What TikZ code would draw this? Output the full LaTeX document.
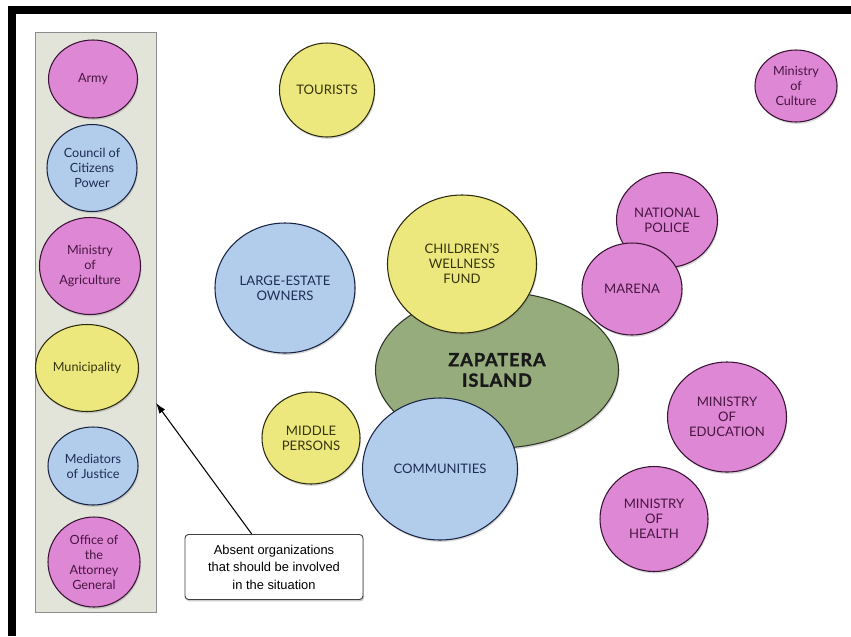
\documentclass[tikz,border=0pt]{standalone}
\usepackage{fontspec}
\setmainfont{Lato}
\newfontfamily\calloutfont{Liberation Sans}
\newfontfamily\islandfont[LetterSpace=5, BoldFeatures={FakeBold=1.6}]{Lato}
\usetikzlibrary{shapes.geometric,shadows,arrows.meta}

\definecolor{orgpink}{RGB}{222,135,212}
\definecolor{orgblue}{RGB}{178,204,236}
\definecolor{orgyellow}{RGB}{236,232,125}
\definecolor{islandgreen}{RGB}{150,172,125}
\definecolor{panelgray}{RGB}{226,227,217}
\definecolor{pinktext}{RGB}{72,22,66}
\definecolor{bluetext}{RGB}{30,45,85}
\definecolor{yellowtext}{RGB}{55,52,15}

\begin{document}
\begin{tikzpicture}[x=0.3mm, y=-0.3mm,
    dims/.style 2 args={minimum width=#1*0.3mm, minimum height=#2*0.3mm},
    org/.style={ellipse, draw=black!80, line width=0.9pt, inner sep=0pt, align=center,
        font=\fontsize{11.2}{12.8}\selectfont,
        drop shadow={opacity=0.3, shadow xshift=0.8pt, shadow yshift=-1.6pt}},
    pinkorg/.style={org, fill=orgpink, draw=pinktext!80!black, text=pinktext},
    blueorg/.style={org, fill=orgblue, draw=bluetext!80!black, text=bluetext},
    yelloworg/.style={org, fill=orgyellow, draw=yellowtext!80!black, text=yellowtext},
    panelorg/.style={font=\fontsize{10.8}{12.8}\selectfont},
    arrow/.style={-{Latex[length=9pt, width=6pt]}, line width=0.9pt}]

    % page and black frame
    \useasboundingbox (0,0) rectangle (851,636);
    \fill[white] (0,0) rectangle (851,636);
    \fill[black] (8,6) rectangle (851,14);
    \fill[black] (8,6) rectangle (16,636);

    % panel of absent organizations
    \node[draw=black!45, line width=0.8pt, fill=panelgray, dims={121}{580},
        drop shadow={opacity=0.2, shadow xshift=0.6pt, shadow yshift=-1.2pt}] (panel) at (95.5,322) {};
    \node[pinkorg, panelorg, dims={89}{78}] (army) at (93,79) {Army};
    \node[blueorg, panelorg, dims={90}{87}] (council) at (92,168) {Council of\\Citizens\\Power};
    \node[pinkorg, panelorg, dims={101}{97}] (agriculture) at (90,266) {Ministry\\of\\Agriculture};
    \node[yelloworg, panelorg, dims={103}{87}] (municipality) at (87,368) {Municipality};
    \node[blueorg, panelorg, dims={90}{78}] (mediators) at (93,466) {Mediators\\of Justice};
    \node[pinkorg, panelorg, dims={92}{90}] (attorney) at (94,562) {Office of\\the\\Attorney\\General};

    % actors round the island
    \node[yelloworg, dims={95}{94}] (tourists) at (327,90) {TOURISTS};
    \node[blueorg, dims={140}{130}] (landowners) at (285,288) {LARGE-ESTATE\\OWNERS};
    \node[yelloworg, dims={98}{92}] (middle) at (311,438) {MIDDLE\\PERSONS};

    % island in the middle
    \node[org, fill=islandgreen, draw=black!70!islandgreen, dims={243}{156}, text=black!90,
        font=\islandfont\fontsize{15.5}{17.5}\bfseries] (zapatera) at (497,370) {ZAPATERA\\ISLAND};
    \node[yelloworg, dims={149}{138}] (children) at (462,264) {CHILDREN'S\\WELLNESS\\FUND};
    \node[blueorg, dims={155}{142}] (communities) at (440,469) {COMMUNITIES};

    % ministries and police
    \node[pinkorg, dims={101}{95}] (police) at (667,220) {NATIONAL\\POLICE};
    \node[pinkorg, dims={100}{92}] (marena) at (632,289) {MARENA};
    \node[pinkorg, panelorg, dims={82}{72}] (culture) at (796,86) {Ministry\\of\\Culture};
    \node[pinkorg, dims={119}{110}] (education) at (727,417) {MINISTRY\\OF\\EDUCATION};
    \node[pinkorg, dims={108}{105}] (health) at (654,519) {MINISTRY\\OF\\HEALTH};

    % callout
    \node[draw=black!75, line width=0.8pt, fill=white, rounded corners=3pt, dims={178}{65},
        align=center, font=\calloutfont\fontsize{11}{15}\selectfont,
        drop shadow={opacity=0.4, shadow xshift=0.8pt, shadow yshift=-1.6pt}] (callout) at (274,567)
        {Absent organizations\\that should be involved\\in the situation};
    \coordinate (tip) at (156,403);
    \draw[arrow] (callout.124) -- (tip);
\end{tikzpicture}
\end{document}
